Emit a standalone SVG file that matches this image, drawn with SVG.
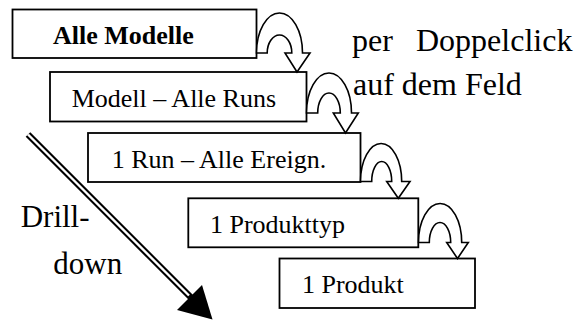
<svg xmlns="http://www.w3.org/2000/svg" width="588" height="320" viewBox="0 0 588 320">
<style>
.box{fill:#fff;stroke:#000;stroke-width:1.8}
.uturn{fill:#fff;stroke:#000;stroke-width:1.6;stroke-linejoin:miter}
text{font-family:'Liberation Serif','Tinos','Times New Roman','DejaVu Serif',serif;fill:#000}
.t{font-size:26px}
.b{font-weight:bold}
.side{font-size:32px}
.dd{font-size:31px}
</style>
<rect width="588" height="320" fill="#fff"/>
<g id="node-alle-modelle">
<rect class="box" x="12.5" y="9.5" width="244" height="48.5"/>
<text class="t b" x="53" y="44.3" font-family="Liberation Serif, serif">Alle Modelle</text>
</g>
<g id="node-modell-alle-runs">
<rect class="box" x="50" y="72" width="256.5" height="49.5"/>
<text class="t" x="71.7" y="106.7" font-family="Liberation Serif, serif">Modell – Alle Runs</text>
</g>
<g id="node-run-alle-ereign">
<rect class="box" x="88" y="133" width="272.5" height="49"/>
<text class="t" x="111.7" y="168.3" font-family="Liberation Serif, serif">1 Run – Alle Ereign.</text>
</g>
<g id="node-produkttyp">
<rect class="box" x="188.3" y="198.3" width="230" height="49"/>
<text class="t" x="210" y="232.7" font-family="Liberation Serif, serif">1 Produkttyp</text>
</g>
<g id="node-produkt">
<rect class="box" x="279.5" y="258.5" width="195.5" height="49.5"/>
<text class="t" x="302" y="293" font-family="Liberation Serif, serif">1 Produkt</text>
</g>
<g id="connectors">
<path class="uturn" d="M256.5,53 A23,40 0 0 1 302.5,53 L310,53 L297,72 L285,53 L291.8,53 A12.3,18 0 0 0 267.2,53 Z"/>
<path class="uturn" d="M306.5,113 A22.5,40 0 0 1 351.5,113 L358.3,113 L345.5,133 L333.3,113 L340.3,113 A11.3,20 0 0 0 317.7,113 Z"/>
<path class="uturn" d="M360.5,181.5 A20.6,38 0 0 1 401.7,181.5 L410,181.5 L398.3,198.3 L386.7,181.5 L391.7,181.5 A10,20 0 0 0 371.7,181.5 Z"/>
<path class="uturn" d="M418.5,242.5 A21.6,39 0 0 1 461.7,242.5 L468.3,242.5 L457.5,258.5 L446.7,242.5 L450.7,242.5 A10.7,20 0 0 0 429.3,242.5 Z"/>
<g id="drilldown-arrow">
<line x1="28" y1="134.5" x2="191" y2="297.5" stroke="#000" stroke-width="6.5"/>
<line x1="28" y1="134.5" x2="189" y2="295.5" stroke="#fff" stroke-width="2.4"/>
<polygon points="177,310 202,285 212.5,319.5" fill="#000"/>
</g>
</g>
<text class="side" x="352" y="51" font-family="Liberation Serif, serif">per</text>
<text class="side" x="416" y="51" font-family="Liberation Serif, serif">Doppelclick</text>
<text class="side" x="353" y="95" font-family="Liberation Serif, serif">auf dem Feld</text>
<text class="dd" x="20.7" y="227.3" font-family="Liberation Serif, serif">Drill-</text>
<text class="dd" x="53.3" y="274" font-family="Liberation Serif, serif">down</text>
</svg>
